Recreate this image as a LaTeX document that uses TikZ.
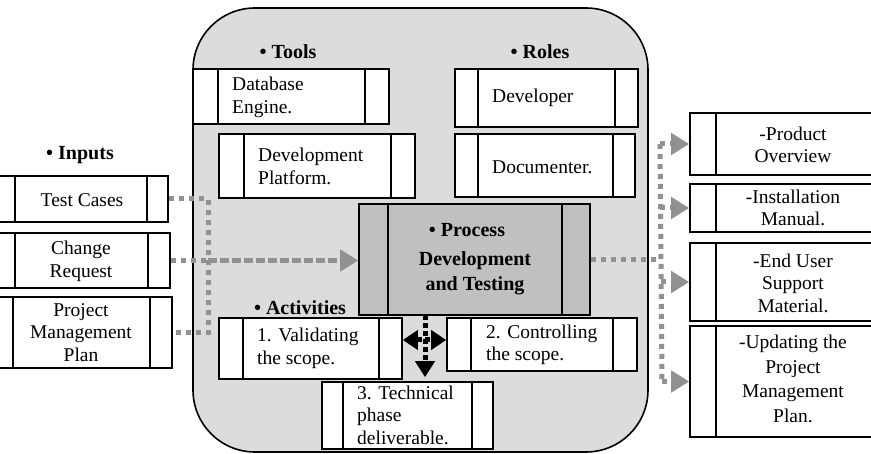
\documentclass[tikz,border=0pt]{standalone}
\usepackage{fontspec}
\setmainfont{Liberation Serif}
\usetikzlibrary{arrows.meta}
\definecolor{panel}{RGB}{220,220,221}
\definecolor{procfill}{RGB}{192,192,192}
\definecolor{flow}{RGB}{145,145,145}
\tikzset{
  bar/.style 2 args={draw=black, line width=1.6pt, fill=white, inner sep=0pt,
    path picture={
      \draw[line width=1.6pt] ([xshift=#1]path picture bounding box.north west)
        -- ([xshift=#1]path picture bounding box.south west);
      \draw[line width=1.6pt] ([xshift=-#2]path picture bounding box.north east)
        -- ([xshift=-#2]path picture bounding box.south east);}},
  txt/.style={inner sep=0pt, font=\fontsize{19.5}{22.5}\selectfont},
  lefttxt/.style={txt, align=left, anchor=west},
  midtxt/.style={txt, align=center},
  head/.style={inner sep=0pt, font=\fontsize{20}{24}\selectfont\bfseries},
  gflow/.style={draw=flow, line width=5pt, dash pattern=on 5pt off 5pt},
  gdash/.style={draw=flow, line width=5pt, dash pattern=on 9pt off 3pt},
  gtip/.style={-{Triangle[length=18pt,width=21pt]}},
  bflow/.style={draw=black, line width=5pt, dash pattern=on 5pt off 3pt},
  btip/.style={-{Triangle[length=16pt,width=19pt]}},
  bboth/.style={{Triangle[length=15pt,width=19pt]}-{Triangle[length=15pt,width=19pt]}},
}
\begin{document}
\begin{tikzpicture}[x=1pt,y=-1pt]
\useasboundingbox (0,0) rectangle (871,454);
\clip (0,0) rectangle (871,454);

% central panel
\node[draw, line width=1.6pt, fill=panel, rounded corners=62pt, inner sep=0pt,
      minimum width=455pt, minimum height=444pt] (frame) at (420.5,230) {};

% tools
\node[head] (toolsh) at (288,52) {\textbullet{} Tools};
\node[bar={25pt}{24pt}, minimum width=196pt, minimum height=55pt] (db) at (291,96.5) {};
\node[lefttxt] (dbt) at (232,97.5) {Database\\Engine.};
\node[bar={25pt}{24pt}, minimum width=196pt, minimum height=64pt] (dp) at (317,166) {};
\node[lefttxt] (dpt) at (258,166.5) {Development\\Platform.};

% roles
\node[head] (rolesh) at (540,52) {\textbullet{} Roles};
\node[bar={23pt}{23pt}, minimum width=183pt, minimum height=58pt] (dev) at (546.5,98) {};
\node[lefttxt] (devt) at (492,98) {Developer};
\node[bar={23pt}{22pt}, minimum width=180pt, minimum height=63pt] (doc) at (545,165.5) {};
\node[lefttxt] (doct) at (492,167) {Documenter.};

% process
\node[bar={29pt}{28pt}, fill=procfill, minimum width=231pt, minimum height=111pt] (proc) at (474.5,259.5) {};
\node[head] (proch) at (467,230) {\textbullet{} Process};
\node[head, align=center, font=\fontsize{20}{25}\selectfont\bfseries] (proct) at (475,273.5) {Development\\and Testing};

% activities
\node[head] (acth) at (300,308) {\textbullet{} Activities};
\node[bar={24pt}{23pt}, minimum width=183pt, minimum height=61pt] (val) at (310.5,348.5) {};
\node[lefttxt] (valt) at (257,348.5) {1. Validating\\the scope.};
\node[bar={24pt}{24pt}, minimum width=190pt, minimum height=53pt] (ctl) at (542,344.5) {};
\node[lefttxt] (ctlt) at (486,345) {2. Controlling\\the scope.};
\node[bar={21pt}{21pt}, minimum width=171pt, minimum height=67pt] (tech) at (407.5,415.5) {};
\node[lefttxt] (techt) at (357,415) {3. Technical\\phase\\deliverable.};

% inputs
\node[head] (inh) at (80,155) {\textbullet{} Inputs};
\node[bar={35pt}{21pt}, minimum width=188pt, minimum height=46pt] (tc) at (74,199) {};
\node[midtxt] (tct) at (82,200) {Test Cases};
\node[bar={35pt}{22pt}, minimum width=190pt, minimum height=55pt] (cr) at (75,260.5) {};
\node[midtxt] (crt) at (81,261.5) {Change\\Request};
\node[bar={33pt}{22pt}, minimum width=192pt, minimum height=71pt] (pmp) at (76,332.5) {};
\node[midtxt] (pmpt) at (81,332.5) {Project\\Management\\Plan};

% outputs
\node[bar={26pt}{26pt}, minimum width=210pt, minimum height=62pt] (po) at (795,144) {};
\node[midtxt] (pot) at (793,145) {-Product\\Overview};
\node[bar={26pt}{26pt}, minimum width=210pt, minimum height=48pt] (im) at (795,208) {};
\node[midtxt] (imt) at (793,208) {-Installation\\Manual.};
\node[bar={26pt}{26pt}, minimum width=210pt, minimum height=78pt] (eu) at (795,282) {};
\node[midtxt] (eut) at (793,283) {-End User\\Support\\Material.};
\node[bar={26pt}{26pt}, minimum width=210pt, minimum height=111pt] (up) at (795,381.5) {};
\node[midtxt, font=\fontsize{19.5}{24.5}\selectfont] (upt) at (793,379) {-Updating the\\Project\\Management\\Plan.};

% input flows
\coordinate (jl) at (208,0);
\draw[gflow] (tc.east) -- (tc.east -| jl) -- (pmp.east -| jl) -- (pmp.east);
\draw[gflow] (cr.east) -- (cr.east -| jl);
\draw[gdash, gtip] (cr.east -| jl) -- (cr.east -| proc.west);

% output flows
\coordinate (r1) at (660,144);
\coordinate (r2) at (660,208);
\coordinate (r3) at (661,282);
\coordinate (r4) at (662,381.5);
\draw[gflow] (proc.east) -- (proc.east -| r2);
\draw[gflow] (r1) -- (r4);
\draw[gflow, gtip] (r1) -- (po.west);
\draw[gflow, gtip] (r2) -- (im.west);
\draw[gflow, gtip] (r3) -- (eu.west);
\draw[gflow, gtip] (r4) -- (up.west);

% activity flows
\coordinate (vtop) at (425,315);
\coordinate (hmid) at (425,340);
\draw[bflow, btip] (vtop) -- ([yshift=4pt]vtop |- tech.north);
\draw[bflow, bboth] (hmid -| val.east) -- (hmid -| ctl.west);
\end{tikzpicture}
\end{document}
